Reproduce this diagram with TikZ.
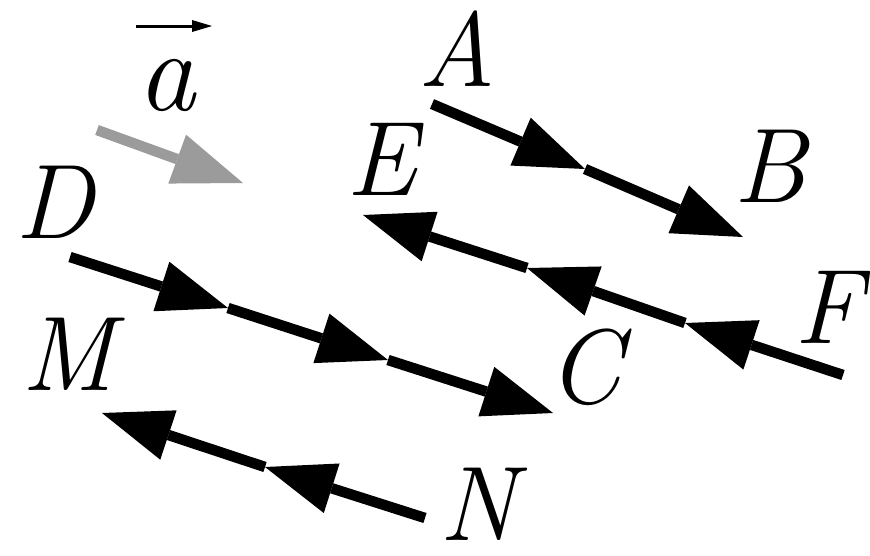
\documentclass[tikz,border=0pt]{standalone}
\usetikzlibrary{arrows.meta}
\definecolor{vecgray}{RGB}{155,155,155}
\begin{document}
\begin{tikzpicture}[x=1pt,y=-1pt,
  seg/.style={line width=10.5pt, -{Triangle[length=70pt,width=52pt,line width=0pt]}},
  lbl/.style={inner sep=0pt, anchor=base, font=\fontsize{106}{116}\selectfont\itshape}]
\useasboundingbox (0,0) rectangle (870,555);
% points
\coordinate (g0) at (97,130);  \coordinate (g1) at (243,183);
\coordinate (a0) at (432,104); \coordinate (a1) at (585,169); \coordinate (a2) at (743,237);
\coordinate (f0) at (843,375); \coordinate (f1) at (685,323); \coordinate (f2) at (527,268); \coordinate (f3) at (363,215);
\coordinate (d0) at (70,257);  \coordinate (d1) at (228,308); \coordinate (d2) at (388,360); \coordinate (d3) at (553,413);
\coordinate (n0) at (425,518); \coordinate (n1) at (265,467); \coordinate (n2) at (102,413);
\coordinate (v0) at (136,26);  \coordinate (v1) at (212,26);
% vector a
\draw[line width=3pt, -{Triangle[length=20pt,width=12pt,line width=0pt]}] (v0) -- (v1);
\node[lbl, font=\fontsize{116}{126}\selectfont\itshape] (la) at (166,110) {a};
\draw[seg, vecgray] (g0) -- (g1);
% AB
\draw[seg] (a0) -- (a1);
\draw[seg] (a1) -- (a2);
% FE
\draw[seg] (f0) -- (f1);
\draw[seg] (f1) -- (f2);
\draw[seg] (f2) -- (f3);
% DC
\draw[seg] (d0) -- (d1);
\draw[seg] (d1) -- (d2);
\draw[seg] (d2) -- (d3);
% NM
\draw[seg] (n0) -- (n1);
\draw[seg] (n1) -- (n2);
% labels
\node[lbl] (A) at (457,86) {A};
\node[lbl] (B) at (770,202) {B};
\node[lbl] (E) at (382,195) {E};
\node[lbl] (F) at (828,343) {F};
\node[lbl] (C) at (585,403) {C};
\node[lbl] (D) at (55,238) {D};
\node[lbl] (M) at (68,390) {M};
\node[lbl] (N) at (478,540) {N};
\end{tikzpicture}
\end{document}
